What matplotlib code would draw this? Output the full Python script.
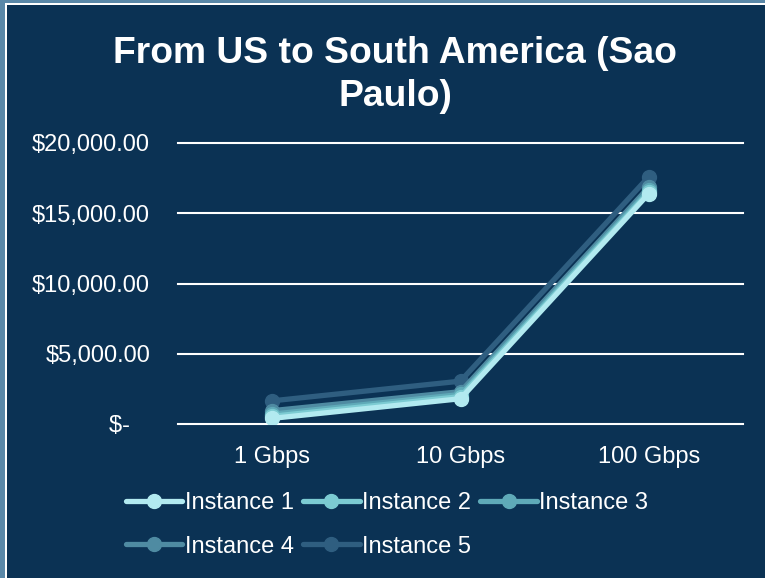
import matplotlib
matplotlib.use("Agg")
from matplotlib import pyplot as plt
from matplotlib.patches import Rectangle
from matplotlib.ticker import FuncFormatter

plt.rcParams['font.family'] = ['Liberation Sans', 'DejaVu Sans']

# transfer cost per bandwidth tier
speeds = ["1 Gbps", "10 Gbps", "100 Gbps"]
instance_1 = [400, 1800, 16400]
instance_2 = [550, 1950, 16500]
instance_3 = [700, 2100, 16650]
instance_4 = [950, 2300, 16850]
instance_5 = [1650, 3050, 17600]
series_names = ["Instance 1", "Instance 2", "Instance 3", "Instance 4", "Instance 5"]
series_vals = [instance_1, instance_2, instance_3, instance_4, instance_5]
colors = ["#b2eaf0", "#7ccbd2", "#5faab8", "#4f8ba2", "#2f5e80"]

navy = "#0b3254"

fig = plt.figure(figsize=(7.65, 5.78), dpi=100)
fig.patch.set_facecolor("#5a88a8")
# white frame line and the navy panel inside it
bg = fig.add_axes([0, 0, 1, 1], zorder=-5)
bg.set_xlim(0, 765)
bg.set_ylim(578, 0)
bg.axis("off")
bg.add_patch(Rectangle((5, 3), 800, 600, facecolor="white", edgecolor="none"))
bg.add_patch(Rectangle((7, 5), 800, 600, facecolor=navy, edgecolor="none"))

ax = fig.add_axes([178 / 765, 1 - 424 / 578, (743 - 178) / 765, (424 - 143) / 578], zorder=2)
ax.set_facecolor("none")

x = list(range(len(speeds)))
for i in reversed(range(len(series_vals))):
    ax.plot(x, series_vals[i], color=colors[i], lw=3.8, marker="o", ms=10,
            solid_capstyle="round", label=series_names[i], zorder=3 + (5 - i))

ax.set_xlim(-0.5, 2.5)
ax.set_ylim(0, 20000)
ax.set_yticks([0, 5000, 10000, 15000, 20000])
ax.set_xticks(x)
ax.set_xticklabels(speeds)


def money(v, pos):
    if v == 0:
        return "$-   "
    return "${:,.2f}".format(v)


ax.yaxis.set_major_formatter(FuncFormatter(money))
ax.grid(axis="y", color="white", lw=1.5)
for gl in ax.get_ygridlines():
    gl.set_clip_on(False)
ax.set_axisbelow(True)
for s in ax.spines.values():
    s.set_visible(False)
ax.tick_params(axis="both", length=0, colors="white", labelsize=17)
ax.tick_params(axis="y", pad=20)
ax.tick_params(axis="x", pad=16)

fig.text(395 / 765, 1 - 75 / 578, "From US to South America (Sao\nPaulo)", color="white",
         fontsize=26.8, fontweight="bold", ha="center", va="center", linespacing=1.3)

# legend filled row by row: 1 2 3 / 4 5
handles, labels = ax.get_legend_handles_labels()
by_name = dict(zip(labels, handles))
order = ["Instance 1", "Instance 4", "Instance 2", "Instance 5", "Instance 3"]
leg = fig.legend([by_name[n] for n in order], order, loc="center",
                 bbox_to_anchor=(387 / 765, 1 - 525 / 578),
                 ncol=3, frameon=False, fontsize=17, labelcolor="white",
                 handlelength=2.4, handletextpad=0.1, columnspacing=0.4, labelspacing=0.9)

fig.savefig("out.png", dpi=100, facecolor=fig.get_facecolor())
